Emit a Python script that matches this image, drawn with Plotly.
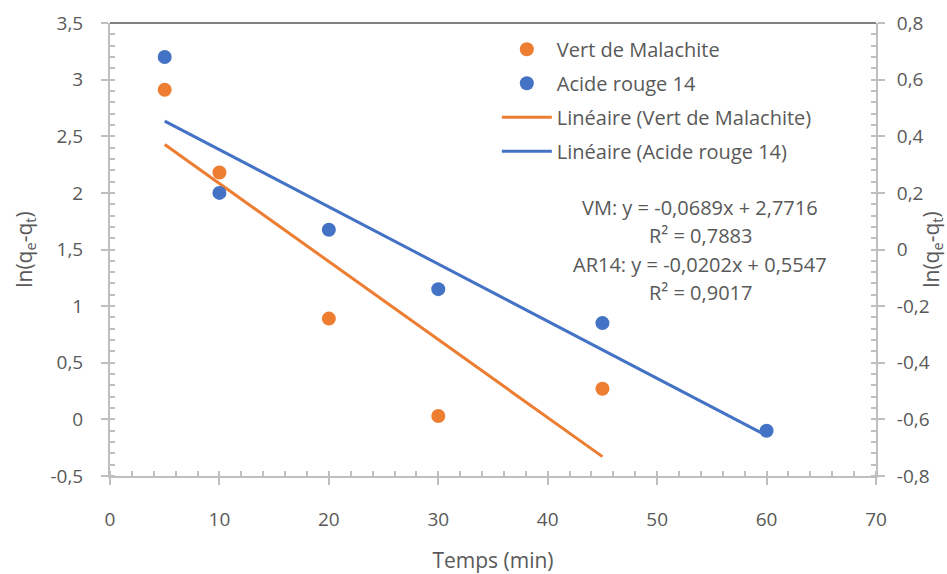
import plotly.graph_objects as go

# Data
t_vm = [5, 10, 20, 30, 45]
ln_vm = [2.91, 2.18, 0.89, 0.03, 0.27]
t_ar = [5, 10, 20, 30, 45, 60]
ln_ar = [0.68, 0.20, 0.07, -0.14, -0.26, -0.64]

# Trendline coefficients (slope, intercept) as displayed
vm_fit = (-0.0689, 2.7716)
ar_fit = (-0.0202, 0.5547)
eq_lines = ["VM: y = -0,0689x + 2,7716", "R² = 0,7883",
            "AR14: y = -0,0202x + 0,5547", "R² = 0,9017"]

# Tick labels
x_ticks = [0, 10, 20, 30, 40, 50, 60, 70]
y1_ticks = [-0.5, 0, 0.5, 1, 1.5, 2, 2.5, 3, 3.5]
y1_text = ["-0,5", "0", "0,5", "1", "1,5", "2", "2,5", "3", "3,5"]
y2_ticks = [-0.8, -0.6, -0.4, -0.2, 0, 0.2, 0.4, 0.6, 0.8]
y2_text = ["-0,8", "-0,6", "-0,4", "-0,2", "0", "0,2", "0,4", "0,6", "0,8"]

ORANGE = "#ED7D31"
BLUE = "#4472C4"
FONT = "Open Sans"
TXT = "#595959"
AX = "#BFBFBF"

vm_x = [min(t_vm), max(t_vm)]
vm_y = [vm_fit[0] * x + vm_fit[1] for x in vm_x]
ar_x = [min(t_ar), max(t_ar)]
ar_y = [ar_fit[0] * x + ar_fit[1] for x in ar_x]

fig = go.Figure()
fig.add_trace(go.Scatter(x=vm_x, y=vm_y, mode="lines", line=dict(color=ORANGE, width=3),
                         name="Linéaire (Vert de Malachite)", legendrank=3, legendgroup="c"))
fig.add_trace(go.Scatter(x=ar_x, y=ar_y, mode="lines", line=dict(color=BLUE, width=3),
                         name="Linéaire (Acide rouge 14)", yaxis="y2", legendrank=4, legendgroup="d"))
fig.add_trace(go.Scatter(x=t_vm, y=ln_vm, mode="markers", marker=dict(color=ORANGE, size=14),
                         name="Vert de Malachite", legendrank=1, legendgroup="a"))
fig.add_trace(go.Scatter(x=t_ar, y=ln_ar, mode="markers", marker=dict(color=BLUE, size=14),
                         name="Acide rouge 14", yaxis="y2", legendrank=2, legendgroup="b"))

axis_common = dict(showgrid=False, zeroline=False, showline=True, linecolor=AX, linewidth=2,
                   ticks="outside", ticklen=7, tickwidth=2, tickcolor=AX, automargin=False,
                   tickfont=dict(family=FONT, size=19, color=TXT))
title_font = dict(family=FONT, size=21, color=TXT)

fig.update_layout(
    width=947, height=574,
    margin=dict(l=110, r=71, t=23, b=98),
    paper_bgcolor="white", plot_bgcolor="white",
    font=dict(family=FONT, color=TXT),
    xaxis=dict(range=[0, 70], tickvals=x_ticks, ticktext=[str(v) for v in x_ticks],
               minor=dict(dtick=2, tick0=0, ticks="inside", ticklen=5, tickcolor=AX, tickwidth=2),
               ticklabelstandoff=18,
               title=dict(text="Temps (min)", font=title_font, standoff=24),
               **axis_common),
    yaxis=dict(range=[-0.5, 3.5], tickvals=y1_ticks, ticktext=y1_text,
               minor=dict(dtick=0.1, tick0=0, ticks="inside", ticklen=5, tickcolor=AX, tickwidth=2),
               ticklabelstandoff=14,
               title=dict(text="ln(q<sub>e</sub>-q<sub>t</sub>)", font=title_font, standoff=12),
               **axis_common),
    yaxis2=dict(range=[-0.8, 0.8], tickvals=y2_ticks, ticktext=y2_text, overlaying="y", side="right",
                minor=dict(dtick=0.04, tick0=0, ticks="inside", ticklen=5, tickcolor=AX, tickwidth=2),
                ticklabelstandoff=8,
                title=dict(text="ln(q<sub>e</sub>-q<sub>t</sub>)", font=title_font, standoff=2),
                **axis_common),
    legend=dict(x=0.505, y=0.985, xanchor="left", yanchor="top", bgcolor="rgba(0,0,0,0)",
                font=dict(family=FONT, size=20, color=TXT), tracegroupgap=5, itemwidth=50),
    showlegend=True,
)

# top border line
fig.add_shape(type="line", xref="paper", yref="paper", x0=0, x1=1, y0=1, y1=1,
              line=dict(color="#808080", width=2))

ys = [207, 236, 264, 292]
for txt, yp in zip(eq_lines, ys):
    fig.add_annotation(xref="paper", yref="paper", x=(700 - 110) / 766, y=1 - (yp - 23) / 453,
                       text=txt, showarrow=False, xanchor="center", yanchor="middle",
                       font=dict(family=FONT, size=20, color=TXT))

fig.write_html("out.html")
